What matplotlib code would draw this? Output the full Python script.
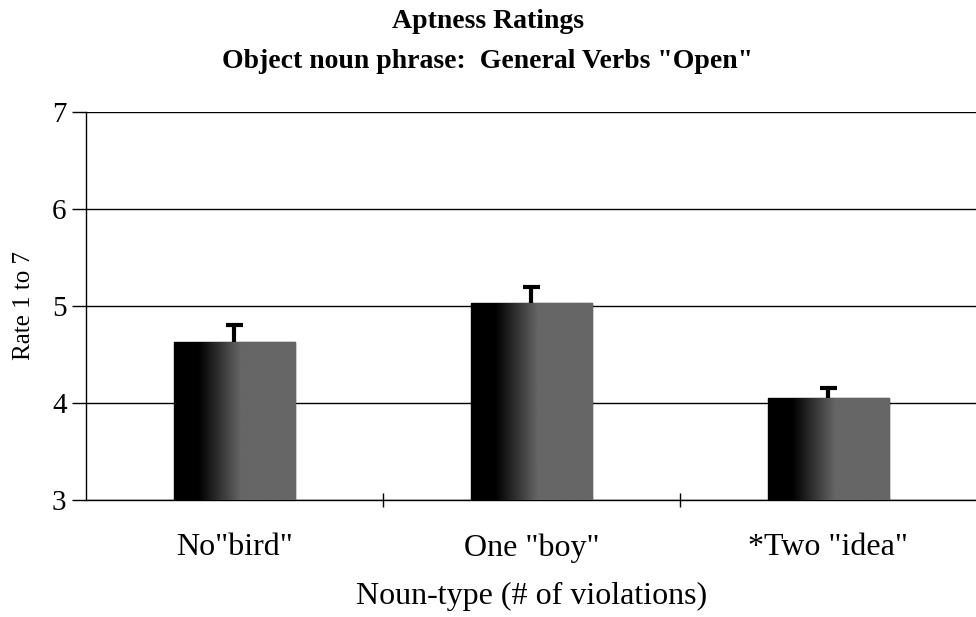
import matplotlib
matplotlib.use("Agg")
import matplotlib.pyplot as plt
import numpy as np

categories = ['No"bird"', 'One "boy"', '*Two "idea"']
values = [4.63, 5.03, 4.05]
errors = [0.17, 0.17, 0.10]
yticks = [3, 4, 5, 6, 7]

plt.rcParams['font.family'] = ['Liberation Serif', 'DejaVu Serif']

fig = plt.figure(figsize=(9.76, 6.17), dpi=100)
ax = fig.add_axes([86/976, 1 - 500/617, (977-86)/976, (500-112)/617])

x = np.arange(len(categories))
bars = ax.bar(x, values, width=0.41, bottom=0, color='#444444', edgecolor='black',
              linewidth=1, zorder=3)

# gradient fill inside bars: black at left to dark speckled gray at right
g = np.linspace(0, 1, 256)
grad = np.where(g < 0.2, 0.0, np.clip((g - 0.2) / 0.35, 0, 1)) * 0.4
grad = grad.reshape(1, -1)
for b in bars:
    x0, w, h = b.get_x(), b.get_width(), b.get_height()
    im = ax.imshow(grad, extent=[x0, x0 + w, 3, h], aspect='auto', cmap='gray',
                   vmin=0, vmax=1, zorder=4)
    im.set_clip_path(b)

# upward-only error bars with a cap on top
tops = np.array(values) + np.array(errors)
ax.vlines(x, values, tops, color='black', linewidth=3, zorder=5)
ax.hlines(tops, x - 0.03, x + 0.03, color='black', linewidth=3, zorder=5)

ax.set_xlim(-0.5, len(categories) - 0.5)
ax.set_ylim(3, 7)
ax.set_yticks(yticks)
ax.set_yticklabels([str(t) for t in yticks], fontsize=21)
ax.yaxis.grid(True, color='black', linewidth=1)
ax.set_axisbelow(True)

ax.set_xticks(x)
ax.set_xticklabels(categories, fontsize=23)
ax.tick_params(axis='x', length=0, pad=24)
ax.set_xticks([0.5, 1.5], minor=True)
ax.tick_params(axis='x', which='minor', length=10, direction='inout', width=1)
ax.tick_params(axis='y', length=10, direction='out', width=1, pad=4)

for s in ['top', 'right']:
    ax.spines[s].set_visible(False)
ax.spines['left'].set_linewidth(1)
ax.spines['bottom'].set_linewidth(1)

ax.set_ylabel('Rate 1 to 7', fontsize=18, labelpad=12)
ax.set_xlabel('Noun-type (# of violations)', fontsize=23, labelpad=14)

fig.text(0.5, 1 - 22/617, 'Aptness Ratings', ha='center', va='center',
         fontsize=20, fontweight='bold')
fig.text(0.5, 1 - 61/617, 'Object noun phrase:  General Verbs "Open"', ha='center',
         va='center', fontsize=20, fontweight='bold')

fig.savefig('out.png', dpi=100)
